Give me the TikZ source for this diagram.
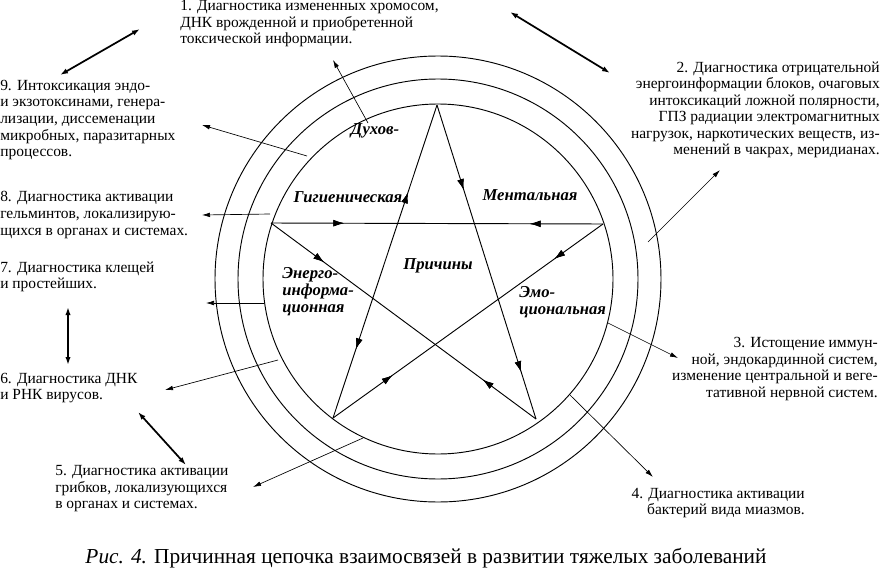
\documentclass[tikz,border=0pt]{standalone}
\usepackage{fontspec}
\setmainfont{Liberation Serif}
\usetikzlibrary{arrows.meta,decorations.markings}
\begin{document}
\begin{tikzpicture}[x=0.75pt,y=-0.75pt,
  txt/.style={font=\fontsize{11.6pt}{12.4pt}\selectfont,inner sep=0pt},
  lbl/.style={font=\fontsize{12.5pt}{12.8pt}\selectfont\bfseries\itshape,inner sep=0pt},
  thin/.style={line width=0.5pt,-{Latex[length=6pt,width=3.5pt]}},
  bold/.style={line width=1.3pt,{Latex[length=6pt,width=4pt]}-{Latex[length=6pt,width=4pt]}},
  ring/.style={line width=0.7pt},
  fw/.style={postaction={decorate},decoration={markings,mark=at position #1 with {\arrow{Latex[length=8pt,width=5pt]}}}},
  bw/.style={postaction={decorate},decoration={markings,mark=at position #1 with {\arrowreversed{Latex[length=8pt,width=5pt]}}}}]
\useasboundingbox (0,0) rectangle (883,571);
\coordinate (C) at (438,279);
\draw[ring] (C) circle[radius=223*0.75pt];
\draw[ring] (C) circle[radius=200*0.75pt];
\draw[ring] (C) circle[radius=175*0.75pt];
\coordinate (T) at (437,105);
\coordinate (L) at (271,223);
\coordinate (R) at (603,224);
\coordinate (BL) at (333,418);
\coordinate (BR) at (536,419);
\draw[line width=0.7pt,bw=0.28,fw=0.78] (T) -- (BL);
\draw[line width=0.7pt,fw=0.27,fw=0.85] (T) -- (BR);
\draw[line width=0.7pt,fw=0.22,bw=0.78] (L) -- (R);
\draw[line width=0.7pt,fw=0.2,bw=0.8] (L) -- (BR);
\draw[line width=0.7pt,fw=0.18,bw=0.78] (R) -- (BL);
% labels
\node[lbl] (l1) at (375,131) {Духов-};
\node[lbl] (l2) at (348,197) {Гигиеническая};
\node[lbl] (l3) at (530,195) {Ментальная};
\node[lbl] (l4) at (438,266) {Причины};
\node[lbl,align=left,anchor=west] (l5) at (282,292) {Энерго-\\информа-\\ционная};
\node[lbl,align=left,anchor=west] (l6) at (519,302) {Эмо-\\циональная};
% texts
\node[txt,align=left,anchor=north west] (t1) at (180,0) {1. Диагностика измененных хромосом,\\ДНК врожденной и приобретенной\\токсической информации.};
\node[txt,align=right,anchor=east] (t2) at (880,110) {2. Диагностика отрицательной\\энергоинформации блоков, очаговых\\интоксикаций ложной полярности,\\ГПЗ радиации электромагнитных\\нагрузок, наркотических веществ, из-\\менений в чакрах, меридианах.};
\node[txt,align=right,anchor=east] (t3) at (878,369) {3. Истощение иммун-\\ной, эндокардинной систем,\\изменение центральной и веге-\\тативной нервной систем.};
\node[txt,align=right,anchor=east] (t4) at (805,503) {4. Диагностика активации\\бактерий вида миазмов.};
\node[txt,align=left,anchor=west] (t5) at (55,489) {5. Диагностика активации\\грибков, локализующихся\\в органах и системах.};
\node[txt,align=left,anchor=west] (t6) at (0,388) {6. Диагностика ДНК\\и РНК вирусов.};
\node[txt,align=left,anchor=west] (t7) at (0,277) {7. Диагностика клещей\\и простейших.};
\node[txt,align=left,anchor=west] (t8) at (0,215) {8. Диагностика активации\\гельминтов, локализирую-\\щихся в органах и системах.};
\node[txt,align=left,anchor=west] (t9) at (0,120) {9. Интоксикация эндо-\\и экзотоксинами, генера-\\лизации, диссеменации\\микробных, паразитарных\\процессов.};
\node[font=\fontsize{16pt}{18pt}\selectfont,inner sep=0pt] (cap) at (426,558) {\textit{Рис. 4.} Причинная цепочка взаимосвязей в развитии тяжелых заболеваний};
% connectors
\coordinate (a1) at (368,123); \coordinate (e1) at (333,60);
\coordinate (a9) at (307,156); \coordinate (e9) at (202,125);
\coordinate (a8) at (270,214); \coordinate (e8) at (202,215);
\coordinate (a7) at (264,303); \coordinate (e7) at (206,303);
\coordinate (a6) at (278,360); \coordinate (e6) at (165,390);
\coordinate (a5) at (363,438); \coordinate (e5) at (253,487);
\coordinate (a4) at (570,395); \coordinate (e4) at (653,477);
\coordinate (a3) at (608,323); \coordinate (e3) at (678,358);
\coordinate (a2) at (648,242); \coordinate (e2) at (720,170);
\foreach \i in {1,...,9} \draw[thin] (a\i) -- (e\i);
\coordinate (b1) at (60,75); \coordinate (b2) at (140,29);
\coordinate (b3) at (510,12); \coordinate (b4) at (610,73);
\coordinate (b5) at (68,307); \coordinate (b6) at (68,365);
\coordinate (b7) at (138,412); \coordinate (b8) at (186,465);
\draw[bold] (b1) -- (b2);
\draw[bold] (b3) -- (b4);
\draw[bold] (b5) -- (b6);
\draw[bold] (b7) -- (b8);
\end{tikzpicture}
\end{document}
